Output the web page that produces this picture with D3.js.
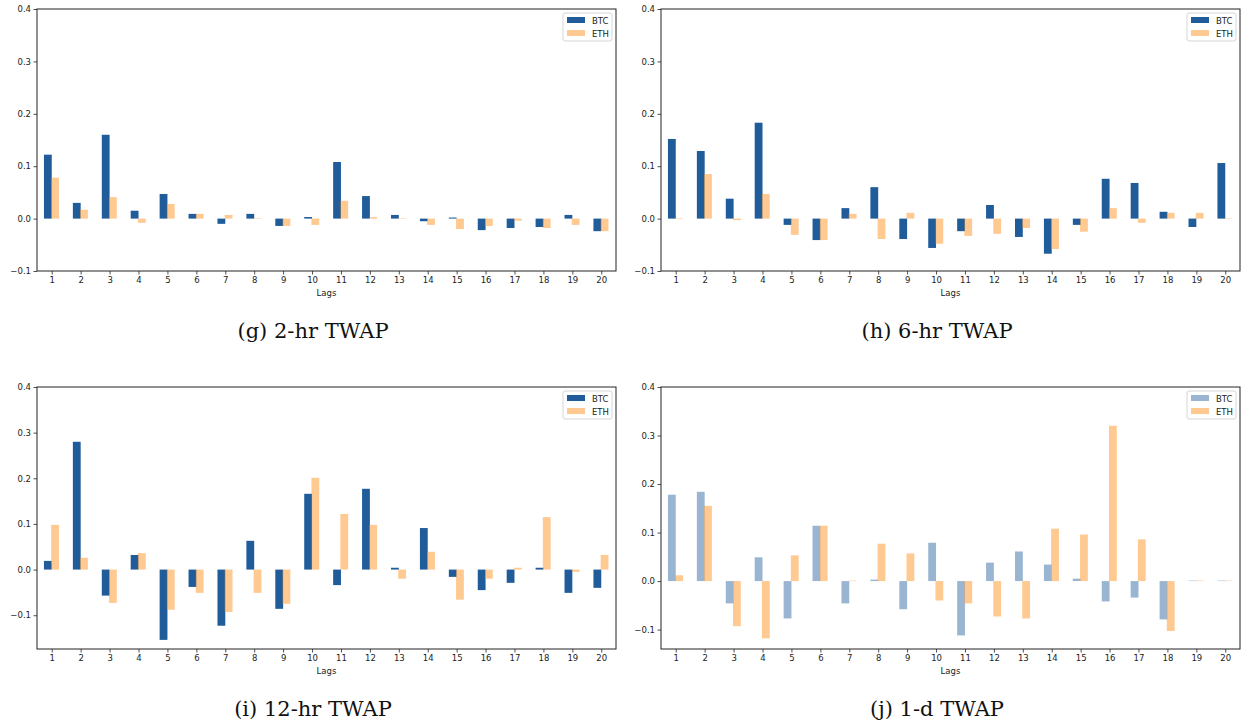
<!DOCTYPE html>
<html>
<head>
<meta charset="utf-8">
<script src="https://cdn.jsdelivr.net/npm/d3@7"></script>
<style>
  body { margin: 0; background: #fff; }
  .tick text { font-family: "DejaVu Sans", sans-serif; font-size: 8.5px; fill: #222; }
  .caption { font-family: "DejaVu Serif", serif; font-size: 21px; fill: #111; }
  .xlabel, .legend text { font-family: "DejaVu Sans", sans-serif; font-size: 8.5px; fill: #222; }
</style>
</head>
<body>
<div class="chart"></div>
<script>
// Data

var lags = [1, 2, 3, 4, 5, 6, 7, 8, 9, 10, 11, 12, 13, 14, 15, 16, 17, 18, 19, 20];
var yTicks = [-0.1, 0.0, 0.1, 0.2, 0.3, 0.4];
var seriesNames = ["BTC", "ETH"];
var captions = ["(g) 2-hr TWAP", "(h) 6-hr TWAP", "(i) 12-hr TWAP", "(j) 1-d TWAP"];

var btc2hr = [0.122, 0.030, 0.160, 0.015, 0.047, 0.009, -0.010, 0.009, -0.014, 0.003,
              0.108, 0.043, 0.007, -0.005, 0.002, -0.022, -0.018, -0.016, 0.007, -0.024];
var eth2hr = [0.078, 0.017, 0.041, -0.008, 0.028, 0.009, 0.007, 0.001, -0.014, -0.012,
              0.034, 0.003, 0.001, -0.012, -0.020, -0.014, -0.004, -0.018, -0.012, -0.024];

var btc6hr = [0.152, 0.129, 0.038, 0.183, -0.012, -0.041, 0.020, 0.060, -0.039, -0.056,
              -0.024, 0.026, -0.035, -0.067, -0.012, 0.076, 0.068, 0.013, -0.016, 0.106];
var eth6hr = [0.001, 0.085, -0.003, 0.047, -0.031, -0.041, 0.009, -0.039, 0.011, -0.048,
              -0.033, -0.029, -0.018, -0.058, -0.025, 0.020, -0.008, 0.011, 0.011, 0.001];

var btc12hr = [0.019, 0.280, -0.057, 0.032, -0.154, -0.038, -0.123, 0.063, -0.086, 0.166,
               -0.034, 0.177, 0.004, 0.091, -0.016, -0.045, -0.029, 0.004, -0.051, -0.040];
var eth12hr = [0.098, 0.026, -0.073, 0.036, -0.088, -0.051, -0.093, -0.051, -0.075, 0.201,
               0.122, 0.098, -0.020, 0.039, -0.066, -0.020, 0.004, 0.115, -0.005, 0.032];

var btc1d = [0.178, 0.184, -0.046, 0.049, -0.077, 0.114, -0.046, 0.003, -0.058, 0.079,
             -0.112, 0.038, 0.061, 0.034, 0.005, -0.042, -0.034, -0.079, 0.001, 0.001];
var eth1d = [0.012, 0.155, -0.093, -0.118, 0.053, 0.114, 0.001, 0.077, 0.057, -0.040,
             -0.046, -0.073, -0.077, 0.108, 0.096, 0.320, 0.086, -0.103, 0.001, 0.001];

// Step 1: Set up chart

var svgWidth = 1247;
var svgHeight = 728;

var svg = d3.select(".chart")
  .append("svg")
  .attr("width", svgWidth)
  .attr("height", svgHeight);

var axW = 579;
var axH = 262;
var barW = 0.27;
var blue = "#1f5c99";
var orange = "#ff9326";

// one entry per panel (layout only, values come from the arrays above)
var panels = [
  { btc: btc2hr, eth: eth2hr, left: 37, top: 9, yMin: -0.1, btcAlpha: 1, capX: 313 },
  { btc: btc6hr, eth: eth6hr, left: 661, top: 9, yMin: -0.1, btcAlpha: 1, capX: 937 },
  { btc: btc12hr, eth: eth12hr, left: 37, top: 387, yMin: -0.174, btcAlpha: 1, capX: 313 },
  { btc: btc1d, eth: eth1d, left: 661, top: 387, yMin: -0.14, btcAlpha: 0.45, capX: 937 }
];

panels.forEach(function(p, i) {
  var g = svg.append("g")
    .attr("transform", `translate(${p.left}, ${p.top})`);

  var x = d3.scaleLinear().domain([0.49, 20.51]).range([0, axW]);
  var y = d3.scaleLinear().domain([p.yMin, 0.4]).range([axH, 0]);

  // BTC bars (left of tick)
  g.selectAll(".btc")
    .data(lags)
    .enter()
    .append("rect")
    .attr("class", "btc")
    .attr("x", d => x(d - barW))
    .attr("width", x(barW) - x(0))
    .attr("y", (d, j) => y(Math.max(0, p.btc[j])))
    .attr("height", (d, j) => Math.abs(y(p.btc[j]) - y(0)))
    .attr("fill", blue)
    .attr("fill-opacity", p.btcAlpha);

  // ETH bars (right of tick), slightly overlapping
  g.selectAll(".eth")
    .data(lags)
    .enter()
    .append("rect")
    .attr("class", "eth")
    .attr("x", d => x(d) - 0.6)
    .attr("width", x(barW) - x(0))
    .attr("y", (d, j) => y(Math.max(0, p.eth[j])))
    .attr("height", (d, j) => Math.abs(y(p.eth[j]) - y(0)))
    .attr("fill", orange)
    .attr("fill-opacity", 0.5);

  // axes
  var bottomAxis = d3.axisBottom(x).tickValues(lags).tickSize(3.5).tickPadding(2.5);
  var leftAxis = d3.axisLeft(y).tickValues(yTicks).tickSize(3.5).tickPadding(2.5)
    .tickFormat(d3.format(".1f"));

  g.append("g")
    .attr("transform", `translate(0, ${axH})`)
    .call(bottomAxis)
    .call(a => a.select(".domain").remove())
    .call(a => a.selectAll("line").attr("stroke", "#222").attr("stroke-width", 0.8));

  g.append("g")
    .call(leftAxis)
    .call(a => a.select(".domain").remove())
    .call(a => a.selectAll("line").attr("stroke", "#222").attr("stroke-width", 0.8));

  // frame
  g.append("rect")
    .attr("width", axW)
    .attr("height", axH)
    .attr("fill", "none")
    .attr("stroke", "#222")
    .attr("stroke-width", 1);

  g.append("text")
    .attr("class", "xlabel")
    .attr("x", axW / 2)
    .attr("y", axH + 25)
    .attr("text-anchor", "middle")
    .text("Lags");

  // legend
  var lg = g.append("g")
    .attr("class", "legend")
    .attr("transform", `translate(${axW - 53}, 4)`);

  lg.append("rect")
    .attr("width", 49)
    .attr("height", 28)
    .attr("rx", 2)
    .attr("fill", "#fff")
    .attr("fill-opacity", 0.8)
    .attr("stroke", "#ccc")
    .attr("stroke-width", 0.8);

  seriesNames.forEach(function(name, k) {
    lg.append("rect")
      .attr("x", 4)
      .attr("y", 4 + k * 13)
      .attr("width", 18)
      .attr("height", 6)
      .attr("fill", k === 0 ? blue : orange)
      .attr("fill-opacity", k === 0 ? p.btcAlpha : 0.5);
    lg.append("text")
      .attr("x", 29)
      .attr("y", 10.5 + k * 13)
      .text(name);
  });

  svg.append("text")
    .attr("class", "caption")
    .attr("x", p.capX)
    .attr("y", p.top + axH + 67)
    .attr("text-anchor", "middle")
    .text(captions[i]);
});
</script>
</body>
</html>
